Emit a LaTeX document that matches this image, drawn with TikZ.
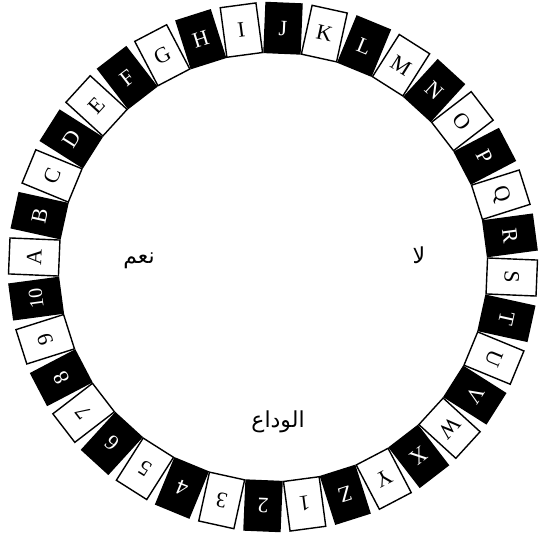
\documentclass[tikz,border=0pt]{standalone}
\usepackage{fontspec}
\setmainfont{Liberation Serif}
\newfontfamily\arabicfont[Script=Arabic]{DejaVu Sans}
\TeXXeTstate=1
\begin{document}
\begin{tikzpicture}[x=1pt,y=-1pt,
  tile/.style={draw=black, line width=1.4pt, minimum width=36pt, minimum height=50pt,
    inner sep=0pt, font=\fontsize{22}{22}\selectfont},
  arab/.style={font=\arabicfont\fontsize{22}{26}\selectfont, inner sep=0pt}]
\useasboundingbox (0,0) rectangle (540,534);
\foreach \t [count=\k from 0] in {A,B,C,D,E,F,G,H,I,J,K,L,M,N,O,P,Q,R,S,T,U,V,W,X,Y,Z,1,2,3,4,5,6,7,8,9,{\fontsize{20}{20}\selectfont 10}}{
  \pgfmathsetmacro\ang{180-10*\k-2.4}
  \pgfmathsetmacro\px{273+239*cos(\ang)}
  \pgfmathsetmacro\py{267-239*sin(\ang)}
  \pgfmathsetmacro\rot{\ang-90}
  \ifodd\k\relax\def\fc{black}\def\tc{white}\else\def\fc{white}\def\tc{black}\fi
  \node[tile, fill=\fc, text=\tc, rotate=\rot] (n\k) at (\px,\py) {\t};
}
\node[arab] (yes) at (139,261) {\beginR نعم\endR};
\node[arab] (no) at (419,255) {\beginR لا\endR};
\node[arab] (bye) at (278,422) {\beginR الوداع\endR};
\end{tikzpicture}
\end{document}
